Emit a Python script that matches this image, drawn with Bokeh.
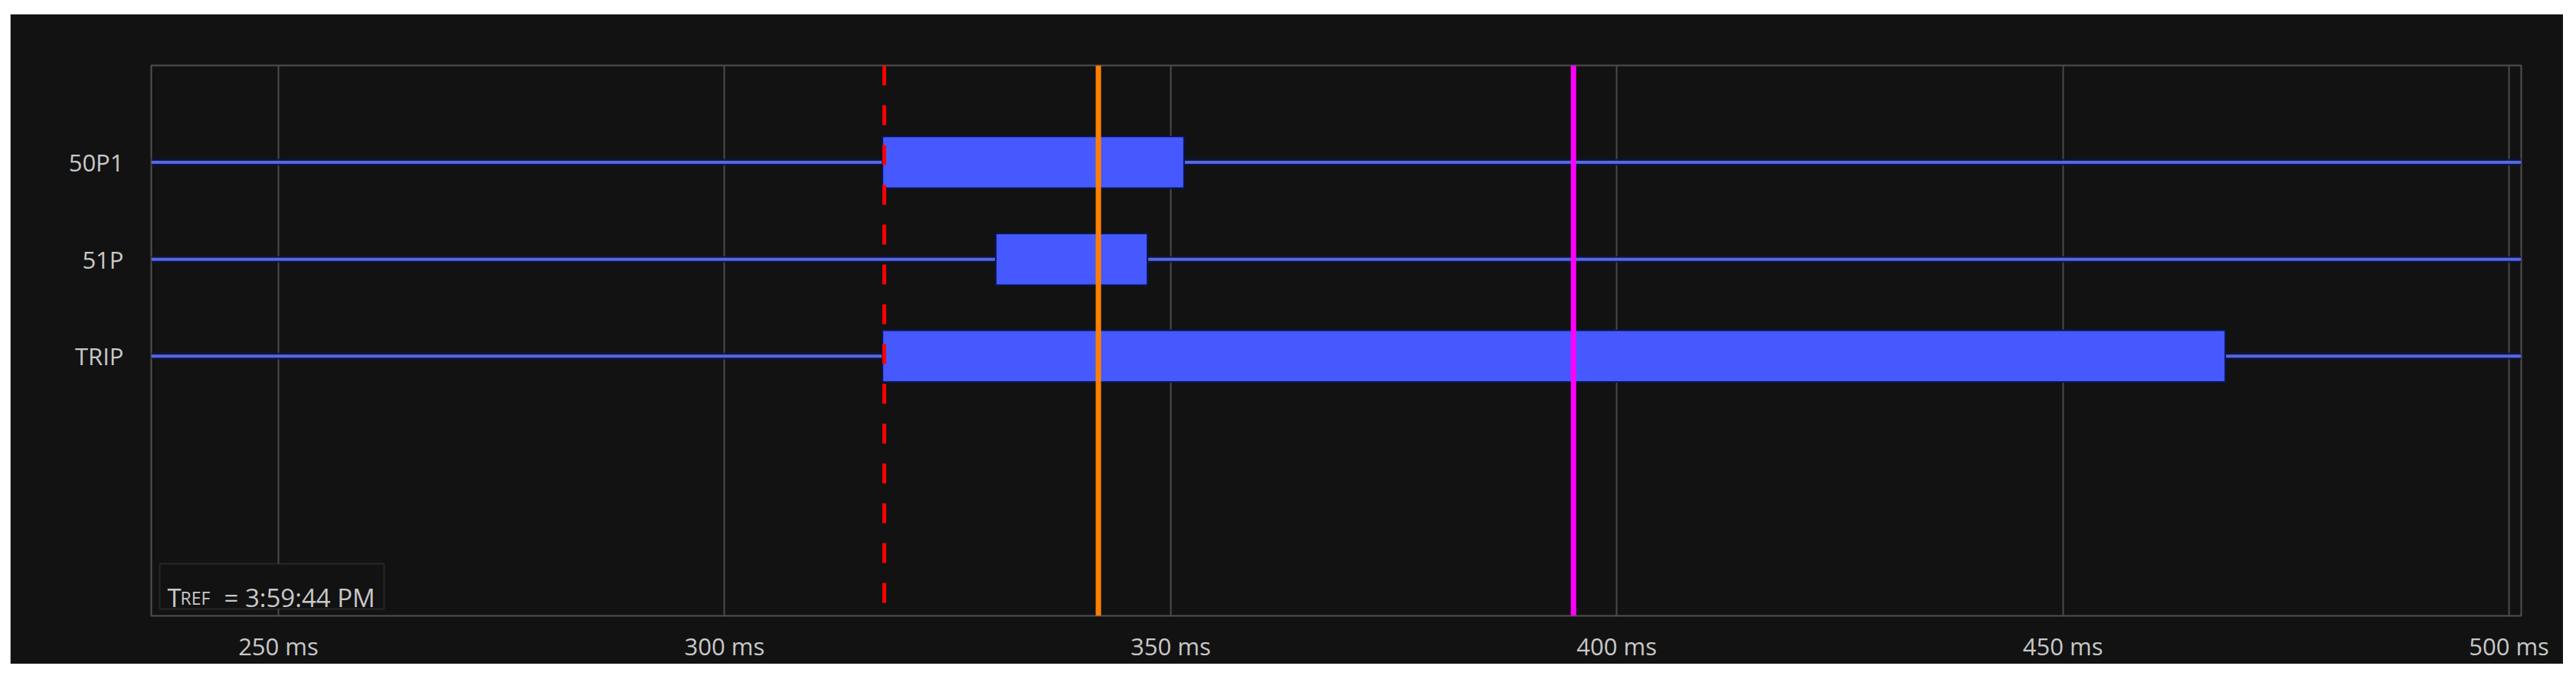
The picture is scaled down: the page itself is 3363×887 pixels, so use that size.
from bokeh.plotting import figure
from bokeh.models import Range1d, FixedTicker, Span, Label, BoxAnnotation, ColumnDataSource, Spacer
from bokeh.layouts import column, row
from bokeh.embed import file_html
from bokeh.resources import INLINE

# ---- data ----
signals = ["50P1", "51P", "TRIP"]
rows = [0, 1, 2]
starts_ms = [317.7, 330.4, 317.7]
ends_ms = [351.5, 347.4, 468.2]
x_ticks = [250, 300, 350, 400, 450, 500]
tick_labels = ["250 ms", "300 ms", "350 ms", "400 ms", "450 ms", "500 ms"]
marker_red_ms = 317.9
marker_orange_ms = 341.9
marker_magenta_ms = 395.15
tref_text = "3:59:44 PM"

BG = "#121212"
TXT = "#c8c8c8"
FONT = "Open Sans"
BAR = "#4659FF"
BASE = "#5a68dc"

x0, x1 = 235.75, 501.37
p = figure(width=3333, height=849, output_backend="svg", toolbar_location=None,
           x_range=Range1d(x0, x1), y_range=Range1d(4.68, -1))
p.min_border_left = 184
p.min_border_right = 55
p.min_border_top = 67
p.min_border_bottom = 58
p.background_fill_color = BG
p.border_fill_color = BG
p.outline_line_color = "#505050"
p.outline_line_width = 2

# axes
p.xaxis.ticker = FixedTicker(ticks=x_ticks)
p.xaxis.major_label_overrides = {t: l for t, l in zip(x_ticks, tick_labels)}
p.yaxis.ticker = FixedTicker(ticks=rows)
p.yaxis.major_label_overrides = {r: s for r, s in zip(rows, signals)}
for ax in (p.xaxis[0], p.yaxis[0]):
    ax.axis_line_color = None
    ax.major_tick_line_color = None
    ax.minor_tick_line_color = None
    ax.major_label_text_color = TXT
    ax.major_label_text_font = FONT
    ax.major_label_text_font_size = "31px"
    ax.major_tick_out = 0
    ax.major_tick_in = 0
p.xaxis.major_label_standoff = 18
p.yaxis.major_label_standoff = 36

p.xgrid.grid_line_color = "#4a4a4a"
p.xgrid.grid_line_width = 2
p.ygrid.grid_line_color = None

# baselines (drawn as glyphs under the bars)
n = len(rows)
base = ColumnDataSource(dict(x0=[x0] * n, x1=[x1] * n, y=rows))
p.segment(x0="x0", x1="x1", y0="y", y1="y", source=base, line_color="#0a1650", line_width=9, line_alpha=0.8)
p.segment(x0="x0", x1="x1", y0="y", y1="y", source=base, line_color=BASE, line_width=4)

src = ColumnDataSource(dict(y=rows, left=starts_ms, right=ends_ms))
p.hbar(y="y", left="left", right="right", height=0.533, source=src,
       fill_color=BAR, line_color="#0a1655", line_width=2)

# markers
p.add_layout(Span(location=marker_red_ms, dimension="height", line_color="#ff0000",
                  line_width=5, line_dash="26 26"))
p.add_layout(Span(location=marker_orange_ms, dimension="height", line_color="#ff8000", line_width=7))
p.add_layout(Span(location=marker_magenta_ms, dimension="height", line_color="#ff00ff", line_width=7))

# TREF box
p.add_layout(BoxAnnotation(left=11, right=304, bottom=9, top=68,
                           left_units="screen", right_units="screen",
                           bottom_units="screen", top_units="screen",
                           fill_color=BG, fill_alpha=1, line_color="#5a5a5a", line_width=2))
p.add_layout(Label(x=21, y=24, x_units="screen", y_units="screen", text="T",
                   text_color=TXT, text_font=FONT, text_font_size="33px", text_baseline="alphabetic"))
p.add_layout(Label(x=38, y=24, x_units="screen", y_units="screen", text="REF",
                   text_color=TXT, text_font=FONT, text_font_size="23px", text_baseline="alphabetic"))
p.add_layout(Label(x=95, y=24, x_units="screen", y_units="screen", text="= " + tref_text,
                   text_color=TXT, text_font=FONT, text_font_size="33px", text_baseline="alphabetic"))

layout = column(Spacer(height=18), row(Spacer(width=13), p))
open("out.html", "w").write(file_html(layout, INLINE))
